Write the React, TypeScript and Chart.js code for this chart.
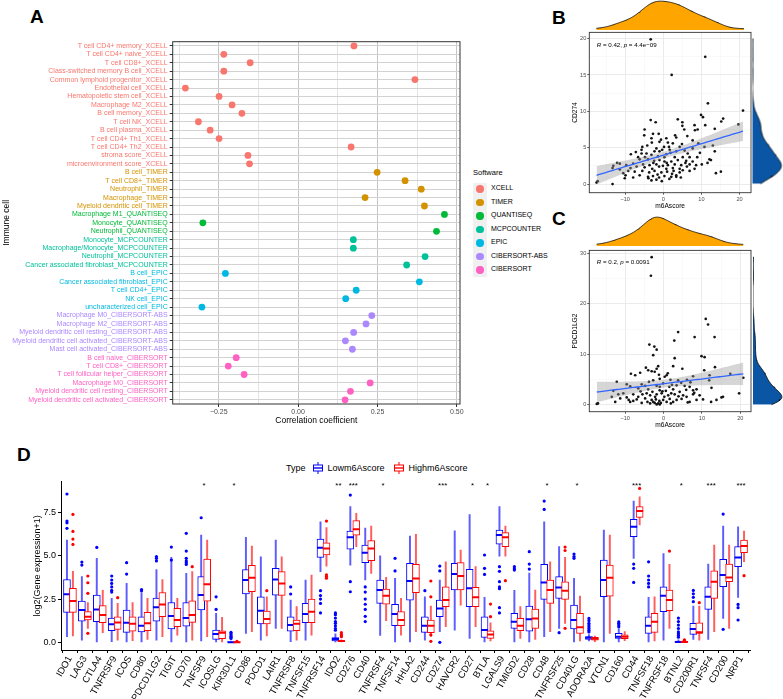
import React, { useEffect, useRef } from 'react';
import { Chart, registerables } from 'chart.js';
Chart.register(...registerables);

const FONT = "'Liberation Sans', Arial, Helvetica, sans-serif";

// ---------------- Panel A data ----------------
const cellLabels = [
  'T cell CD4+ memory_XCELL', 'T cell CD4+ naive_XCELL', 'T cell CD8+_XCELL', 'Class-switched memory B cell_XCELL',
  'Common lymphoid progenitor_XCELL', 'Endothelial cell_XCELL', 'Hematopoietic stem cell_XCELL', 'Macrophage M2_XCELL',
  'B cell memory_XCELL', 'T cell NK_XCELL', 'B cell plasma_XCELL', 'T cell CD4+ Th1_XCELL', 'T cell CD4+ Th2_XCELL',
  'stroma score_XCELL', 'microenvironment score_XCELL',
  'B cell_TIMER', 'T cell CD8+_TIMER', 'Neutrophil_TIMER', 'Macrophage_TIMER', 'Myeloid dendritic cell_TIMER',
  'Macrophage M1_QUANTISEQ', 'Monocyte_QUANTISEQ', 'Neutrophil_QUANTISEQ',
  'Monocyte_MCPCOUNTER', 'Macrophage/Monocyte_MCPCOUNTER', 'Neutrophil_MCPCOUNTER', 'Cancer associated fibroblast_MCPCOUNTER',
  'B cell_EPIC', 'Cancer associated fibroblast_EPIC', 'T cell CD4+_EPIC', 'NK cell_EPIC', 'uncharacterized cell_EPIC',
  'Macrophage M0_CIBERSORT-ABS', 'Macrophage M2_CIBERSORT-ABS', 'Myeloid dendritic cell resting_CIBERSORT-ABS',
  'Myeloid dendritic cell activated_CIBERSORT-ABS', 'Mast cell activated_CIBERSORT-ABS',
  'B cell naive_CIBERSORT', 'T cell CD8+_CIBERSORT', 'T cell follicular helper_CIBERSORT', 'Macrophage M0_CIBERSORT',
  'Myeloid dendritic cell resting_CIBERSORT', 'Myeloid dendritic cell activated_CIBERSORT',
];
const corrValues = [
  0.176, -0.234, -0.151, -0.234, 0.368, -0.355, -0.249, -0.208, -0.177, -0.314, -0.277, -0.249, 0.167, -0.158, -0.153,
  0.249, 0.337, 0.388, 0.211, 0.398,
  0.461, -0.300, 0.436,
  0.174, 0.174, 0.400, 0.342,
  -0.229, 0.382, 0.183, 0.150, -0.303,
  0.232, 0.214, 0.175, 0.149, 0.171,
  -0.195, -0.220, -0.170, 0.227, 0.165, 0.148,
];
const softwareNames = ['XCELL', 'TIMER', 'QUANTISEQ', 'MCPCOUNTER', 'EPIC', 'CIBERSORT-ABS', 'CIBERSORT'];
const softwareColors = ['#F8766D', '#D39200', '#00BA38', '#00C19A', '#00B9E3', '#AC88FF', '#FF61C3'];
const cellSoftware = cellLabels.map((l) => l.slice(l.lastIndexOf('_') + 1));

// ---------------- Panel B / C data ----------------
const cd274Points: number[][] = [
  [-3.3, 19.9], [11.0, 17.5], [2.2, 15.0], [11.7, 11.1], [20.9, 10.1], [19.7, 8.2], [9.9, 9.5], [10.4, 9.2], [15.7, 9.0], [15.2, 8.6],
  [-3.3, 8.8], [-2.0, 8.5], [3.8, 8.9], [5.0, 8.5], [5.0, 8.0], [8.2, 8.1], [11.0, 8.1], [13.5, 7.6], [-4.9, 7.5], [5.5, 7.5],
  [8.3, 7.4], [9.0, 7.5], [-2.7, 6.9], [-1.2, 6.9], [-5.0, 6.7], [-3.1, 6.3], [0.8, 6.3], [3.1, 6.7], [3.4, 6.4], [6.3, 6.6],
  [-3.0, 5.7], [-1.0, 5.8], [1.2, 5.7], [2.5, 5.6], [7.7, 6.0], [13.0, 5.3], [10.8, 5.1], [-4.2, 5.3], [-5.5, 5.1], [0.2, 5.1],
  [1.5, 5.1], [4.3, 5.1], [-5.7, 4.7], [-1.8, 4.9], [-0.3, 4.7], [1.7, 4.7], [3.4, 4.5], [5.6, 4.6], [13.5, 4.5], [-8.5, 4.1],
  [-4.4, 4.2], [-3.1, 4.0], [-1.4, 3.8], [0.8, 4.1], [3.0, 3.7], [5.1, 3.7], [6.9, 3.7], [8.9, 3.7], [12.1, 3.4], [12.5, 3.3],
  [-6.6, 3.7], [-6.2, 3.4], [-4.0, 3.4], [-2.4, 3.2], [-1.0, 3.3], [0.3, 3.1], [2.1, 3.1], [3.8, 3.3], [6.0, 3.2], [7.7, 3.1],
  [10.1, 2.7], [-7.9, 2.8], [-5.3, 2.7], [-3.6, 2.6], [-1.8, 2.7], [-0.1, 2.5], [1.2, 2.6], [3.0, 2.7], [4.7, 2.6], [6.9, 2.7],
  [8.6, 2.6], [-12.1, 2.9], [-9.7, 2.6], [-7.0, 2.4], [-4.9, 2.3], [-2.9, 2.1], [-1.1, 2.4], [0.8, 2.1], [2.5, 2.2], [4.3, 2.1],
  [6.2, 2.4], [-13.3, 2.2], [-11.4, 2.0], [-9.2, 1.8], [-7.5, 1.7], [-5.5, 1.8], [-3.7, 1.6], [-2.3, 1.8], [-0.5, 1.6], [1.0, 1.7],
  [2.7, 1.8], [4.3, 1.6], [6.9, 1.8], [13.8, 1.5], [15.1, 1.7], [-6.2, 1.2], [-4.0, 1.0], [-2.7, 1.1], [-1.1, 0.9], [0.3, 1.1],
  [2.1, 1.0], [3.4, 1.2], [-7.9, 0.9], [-10.1, 0.8], [-3.1, 0.5], [-1.8, 0.6], [-17.5, 0.2], [-17.2, 0.4], [-13.3, 0.0], [-13.1, 2.5],
  [-10.5, 1.5], [-11.4, 2.8], [-4.8, 3.7], [-5.7, 4.2], [-2.3, 4.5], [7.7, 4.9], [8.2, 2.1], [5.1, 1.9], [9.6, 4.3], [3.4, 1.0],
  [-1.0, 4.5], [0.3, 3.7], [-7.2, 4.4], [-0.6, 6.1], [1.9, 4.3], [4.9, 5.5], [6.4, 4.2], [-2.6, 2.9], [0.9, 2.9], [-3.9, 0.8],
  [-0.4, 0.4], [1.6, 0.7], [-1.5, 1.3], [2.3, 1.4], [4.6, 0.9], [5.8, 2.9], [-8.6, 2.2], [-9.9, 1.2], [9.2, 5.6], [11.6, 2.9],
];
const pdcd1lg2Points: number[][] = [
  [-3.1, 29.3], [-3.3, 25.6], [11.0, 17.0], [11.6, 15.9], [3.8, 14.4], [8.1, 13.4], [13.3, 13.4], [2.8, 12.7], [-3.7, 11.9], [-2.4, 11.5],
  [-1.8, 10.9], [-2.7, 9.8], [9.9, 9.6], [10.7, 9.4], [2.9, 9.2], [13.4, 7.4], [2.5, 7.6], [4.9, 7.1], [10.6, 6.8], [-4.6, 7.3],
  [-4.0, 6.8], [-3.1, 6.6], [-1.8, 7.1], [-1.4, 7.6], [-2.3, 6.5], [-6.1, 6.3], [-8.5, 6.1], [-7.4, 5.8], [0.8, 5.8], [7.7, 5.6],
  [12.0, 5.8], [17.4, 6.1], [20.8, 5.3], [11.9, 4.8], [-12.2, 4.5], [-9.6, 4.0], [-5.7, 4.0], [-4.8, 3.7], [-2.7, 4.8], [-1.0, 5.1],
  [0.3, 5.5], [1.8, 4.9], [3.8, 4.8], [6.1, 4.9], [-1.8, 3.7], [-0.1, 4.2], [1.5, 3.5], [3.4, 3.8], [5.5, 3.7], [6.8, 3.5],
  [12.5, 3.3], [7.7, 2.8], [8.6, 3.0], [-8.7, 3.6], [-6.6, 3.2], [-4.0, 3.0], [-2.9, 2.5], [-1.0, 2.8], [0.6, 2.7], [2.5, 3.0],
  [4.2, 2.5], [-13.1, 2.7], [-10.5, 2.2], [-7.9, 2.0], [-5.5, 2.0], [-3.5, 1.8], [-1.8, 2.0], [-0.5, 2.2], [1.2, 1.8], [2.9, 2.0],
  [5.1, 1.8], [7.7, 2.0], [9.4, 1.8], [19.7, 2.2], [-13.5, 1.5], [-11.3, 1.2], [-9.6, 1.4], [-7.0, 1.0], [-4.8, 1.2], [-3.1, 0.9],
  [-2.0, 1.0], [-1.1, 0.7], [-0.1, 0.9], [1.6, 1.1], [3.4, 0.9], [4.7, 1.1], [8.6, 0.9], [13.8, 0.9], [15.5, 1.5], [15.1, 1.4],
  [-12.6, 0.5], [-8.7, 0.5], [-5.7, 0.3], [-3.5, 0.2], [-2.3, 0.3], [-1.4, 0.2], [-0.7, 0.3], [0.8, 0.5], [-2.7, 0.5], [-17.4, 0.1],
  [-17.1, 0.2], [-1.8, 0.0], [-1.0, 0.0], [2.5, 0.5], [-7.9, 0.7], [-6.6, 1.5], [-4.4, 2.2], [-1.0, 3.5], [2.0, 2.2], [6.0, 1.5],
  [6.8, 0.5], [-2.2, 1.5], [0.2, 1.5], [1.9, 0.2], [-4.2, 0.5], [3.9, 1.6], [5.9, 2.9], [-6.0, 2.6], [-9.1, 0.9], [-11.8, 2.0],
  [8.0, 2.3], [10.3, 1.0], [12.4, 0.5], [-0.3, 2.6], [2.2, 3.9], [4.6, 4.3], [7.0, 4.4], [-3.8, 4.5], [-1.2, 5.9], [1.1, 6.2], [6.3, 0.4],
];
const statB = { r: '0.42', p: '4.4e\u221209' };
const statC = { r: '0.2', p: '0.0091' };

// ---------------- Panel D data ----------------
const genes = ['IDO1', 'LAG3', 'CTLA4', 'TNFRSF9', 'ICOS', 'CD80', 'PDCD1LG2', 'TIGIT', 'CD70', 'TNFSF9', 'ICOSLG', 'KIR3DL1',
  'CD86', 'PDCD1', 'LAIR1', 'TNFRSF8', 'TNFSF15', 'TNFRSF14', 'IDO2', 'CD276', 'CD40', 'TNFRSF4', 'TNFSF14', 'HHLA2', 'CD244',
  'CD274', 'HAVCR2', 'CD27', 'BTLA', 'LGALS9', 'TMIGD2', 'CD28', 'CD48', 'TNFRSF25', 'CD40LG', 'ADORA2A', 'VTCN1', 'CD160',
  'CD44', 'TNFSF18', 'TNFRSF18', 'BTNL2', 'CD200R1', 'TNFSF4', 'CD200', 'NRP1'];
// [lower whisker, Q1, median, Q3, upper whisker]
const lowStats = [
  [0.33, 1.73, 2.77, 3.63, 5.9], [0.13, 1.23, 1.87, 2.38, 3.8], [0, 1.19, 1.9, 2.73, 4.85], [0.04, 0.67, 1.04, 1.4, 2.54],
  [0, 0.58, 1.13, 1.87, 3.4], [0, 0.6, 0.96, 1.48, 2.87], [0.13, 1.23, 2.02, 2.55, 4.2], [0, 0.77, 1.52, 2.3, 4.9],
  [0, 0.94, 1.4, 2.3, 3.98], [0.08, 1.87, 2.73, 3.79, 6.19], [0, 0.17, 0.48, 0.71, 1.67], [0, 0, 0, 0.04, 0.08],
  [0.52, 2.79, 3.6, 4.2, 6.06], [0.13, 1.06, 1.83, 2.63, 4.94], [0.81, 2.73, 3.63, 4.27, 5.9], [0.04, 0.65, 1.0, 1.48, 2.44],
  [0.13, 1.13, 1.63, 2.25, 3.6], [4.08, 4.9, 5.46, 5.96, 6.96], [0, 0.08, 0.19, 0.27, 0.5], [4.46, 5.38, 6.06, 6.42, 7.83],
  [3.6, 4.6, 5.17, 5.62, 6.6], [0.4, 2.25, 3.02, 3.6, 5.0], [0, 0.96, 1.63, 2.19, 3.7], [0, 2.44, 3.54, 4.56, 6.13],
  [0.13, 0.58, 0.96, 1.48, 2.63], [0.62, 1.48, 1.96, 2.44, 3.6], [0.71, 3.02, 3.94, 4.56, 6.44], [0.23, 2.06, 3.12, 4.21, 7.38],
  [0, 0.29, 0.71, 1.48, 2.6], [4.98, 5.67, 6.19, 6.48, 7.83], [0, 0.81, 1.19, 1.67, 3.0], [0, 0.65, 1.33, 2.1, 4.0],
  [0.33, 2.48, 3.46, 4.5, 6.96], [0.81, 2.54, 3.17, 3.79, 5.52], [0, 0.77, 1.29, 2.15, 3.7], [0.08, 0.17, 0.27, 0.33, 0.45],
  [0, 2.63, 3.6, 4.75, 6.48], [0, 0.23, 0.33, 0.52, 0.8], [4.85, 6.1, 6.67, 7.1, 8.15], [0, 0.52, 0.96, 1.48, 2.6],
  [0.13, 1.77, 2.69, 3.21, 5.13], [0, 0, 0.02, 0.08, 0.15], [0.17, 0.46, 0.77, 1.1, 2.1], [0.17, 1.9, 2.63, 3.21, 4.52],
  [1.38, 3.21, 3.88, 4.79, 6.71], [2.6, 4.37, 4.9, 5.52, 6.67],
];
const highStats = [
  [0.37, 1.73, 2.38, 3.12, 4.1], [0.81, 1.29, 1.48, 1.77, 2.3], [0.56, 1.13, 1.58, 2.12, 3.0], [0.13, 0.75, 1.15, 1.48, 2.25],
  [0.1, 0.65, 1.08, 1.48, 2.3], [0.17, 0.67, 1.1, 1.73, 2.54], [0.33, 1.48, 2.19, 2.88, 3.63], [0.42, 0.9, 1.29, 1.96, 2.54],
  [0.13, 1.15, 1.58, 2.4, 4.08], [0.33, 2.38, 3.35, 4.8, 5.9], [0, 0.21, 0.56, 0.67, 1.44], [0, 0, 0, 0.02, 0.05],
  [0.62, 2.92, 3.73, 4.45, 5.56], [0.37, 1.06, 1.35, 1.81, 2.63], [0.8, 2.71, 3.4, 4.08, 4.94], [0.13, 0.67, 1.08, 1.29, 2.06],
  [0.42, 1.13, 1.77, 2.5, 3.88], [4.4, 5.04, 5.42, 5.75, 6.63], [0, 0.04, 0.08, 0.1, 0.15], [5.52, 6.19, 6.52, 7.02, 7.44],
  [3.98, 4.71, 5.42, 5.87, 6.71], [1.25, 2.21, 2.69, 3.08, 3.75], [0.42, 0.96, 1.29, 1.77, 2.54], [0.62, 2.87, 3.69, 4.5, 6.23],
  [0.33, 0.56, 0.96, 1.29, 2.1], [0.9, 2.06, 2.44, 3.21, 4.65], [2.15, 3.02, 3.83, 4.6, 5.33], [0.9, 2.06, 2.6, 3.17, 4.37],
  [0.08, 0.23, 0.46, 0.67, 1.13], [4.98, 5.52, 6.06, 6.33, 6.71], [0.23, 0.67, 0.96, 1.38, 2.06], [0.17, 0.81, 1.38, 1.92, 3.02],
  [0.62, 2.25, 3.02, 3.6, 4.65], [1.1, 2.48, 2.98, 3.5, 4.9], [0.08, 0.52, 0.87, 1.67, 2.67], [0.04, 0.13, 0.21, 0.29, 0.37],
  [0.52, 2.67, 3.73, 4.46, 6.19], [0.1, 0.21, 0.33, 0.44, 0.62], [6.77, 7.21, 7.58, 7.83, 8.4], [0.08, 0.58, 1.19, 1.67, 2.63],
  [0.81, 1.83, 2.44, 3.02, 4.5], [0, 0, 0.02, 0.06, 0.1], [0.13, 0.52, 0.58, 1.13, 2.1], [0.62, 2.54, 3.5, 4.13, 5.62],
  [0.81, 3.5, 3.75, 4.52, 5.62], [4.65, 5.17, 5.56, 5.9, 6.42],
];
const lowOutliers = [
  [8.56, 7.0, 6.9, 6.58], [4.63, 4.46], [5.48], [3.83, 3.6, 3.4, 3.2, 3.0, 2.9], [4.6, 3.94], [3.05, 2.98], [4.95, 4.85, 4.7],
  [5.5, 4.75], [6.29, 5.27, 4.85, 4.7, 4.6, 4.5], [7.19], [2.63, 1.9], [0.58, 0.5, 0.42, 0.35, 0.28, 0.23], [], [], [],
  [3.2, 2.79], [], [2.98, 2.7, 2.5, 2.25, 1.7], [1.7, 1.6, 1.4, 1.2, 1.1, 0.95, 0.8, 0.7], [8.5, 3.5, 2.92],
  [3.2, 2.9, 2.5, 2.2, 1.9, 1.5, 1.2], [], [4.85, 4.12], [], [2.98], [4.4, 4.12, 0], [], [], [5.04, 4.27, 3.92],
  [4.37, 4.1, 3.5, 3.2, 3.1, 2.0, 1.7], [4.37, 4.25, 4.17], [5.23, 4.52, 4.23], [8.15, 7.67], [0.56], [5.1, 4.95, 4.85],
  [1.38, 1.25, 1.1, 1.0, 0.9, 0.8, 0.7, 0.6], [], [1.19, 1.1, 1.0, 0.9], [4.52, 4.27, 3.46], [4.65, 3.83, 3.6, 3.4, 3.2], [],
  [1.4, 1.2, 1.0, 0.8, 0.6, 0.5, 0.4, 0.3], [3.0, 2.8, 2.6, 2.35], [], [7.4, 0.75], [2.19, 2.0, 1.29],
];
const highOutliers = [
  [7.38, 6.4, 5.96, 5.65], [3.83, 3.44, 2.83, 0.52], [], [2.58], [], [], [], [], [4.37], [], [], [0.06], [], [2.98], [], [], [],
  [7.0, 3.9, 3.8, 3.7], [0.56, 0.45, 0.38, 0.33], [], [], [], [], [], [3.54, 2.63, 0.44, 0.06], [], [], [], [2.21, 1.48], [3.56],
  [], [], [], [5.5, 5.3, 0.81], [], [], [], [], [8.88], [], [5.27], [0.15, 0.12], [2.29], [], [], [3.85],
];
const signif = ['', '', '', '', '', '', '', '', '', '*', '', '*', '', '', '', '', '', '', '**', '***', '', '*', '', '', '', '***',
  '', '*', '*', '', '', '', '*', '', '*', '', '', '', '***', '', '', '*', '', '***', '', '***'];
const typeNames = ['Lowm6Ascore', 'Highm6Ascore'];
const typeColors = ['#0000FF', '#FF0000'];
const typeWhisker = ['rgba(40,40,255,0.75)', 'rgba(255,40,40,0.75)'];

// ---------------- helpers ----------------
const minus = (s: string) => s.replace('-', '\u2212');

function kde(vals: number[], n = 160) {
  const N = vals.length;
  const mean = vals.reduce((a, b) => a + b, 0) / N;
  const sd = Math.sqrt(vals.reduce((a, b) => a + (b - mean) ** 2, 0) / (N - 1));
  const s = [...vals].sort((a, b) => a - b);
  const q = (p: number) => { const h = (N - 1) * p; const lo = Math.floor(h); return s[lo] + (h - lo) * (s[Math.min(lo + 1, N - 1)] - s[lo]); };
  const iqr = q(0.75) - q(0.25);
  const bw = 0.9 * Math.min(sd, iqr / 1.34) * Math.pow(N, -0.2);
  const lo = s[0], hi = s[N - 1];
  const out: { x: number; y: number }[] = [];
  for (let k = 0; k < n; k++) {
    const x = lo + ((hi - lo) * k) / (n - 1);
    let d = 0;
    for (const v of vals) { const z = (x - v) / bw; d += Math.exp(-0.5 * z * z); }
    out.push({ x, y: d / (N * bw * Math.sqrt(2 * Math.PI)) });
  }
  return out;
}

function linFit(pts: number[][]) {
  const n = pts.length;
  const mx = pts.reduce((a, p) => a + p[0], 0) / n;
  const my = pts.reduce((a, p) => a + p[1], 0) / n;
  let sxx = 0, sxy = 0;
  for (const p of pts) { sxx += (p[0] - mx) ** 2; sxy += (p[0] - mx) * (p[1] - my); }
  const b = sxy / sxx, a = my - b * mx;
  let sse = 0;
  for (const p of pts) sse += (p[1] - a - b * p[0]) ** 2;
  const s = Math.sqrt(sse / (n - 2));
  const xs = pts.map((p) => p[0]);
  const lo = Math.min(...xs), hi = Math.max(...xs);
  const line: any[] = [], upper: any[] = [], lower: any[] = [];
  for (let k = 0; k <= 80; k++) {
    const x = lo + ((hi - lo) * k) / 80;
    const yh = a + b * x;
    const se = s * Math.sqrt(1 / n + (x - mx) ** 2 / sxx) * 1.976;
    line.push({ x, y: yh }); upper.push({ x, y: yh + se }); lower.push({ x, y: yh - se });
  }
  return { line, upper, lower };
}

const panelBorder = {
  id: 'panelBorder',
  afterDatasetsDraw(chart: any, _a: any, opts: any) {
    if (!opts || !opts.color) return;
    const { ctx, chartArea: a } = chart;
    ctx.save();
    ctx.strokeStyle = opts.color;
    ctx.lineWidth = opts.width || 1;
    ctx.strokeRect(a.left, a.top, a.right - a.left, a.bottom - a.top);
    ctx.restore();
  },
};

const corrText = {
  id: 'corrText',
  afterDatasetsDraw(chart: any, _a: any, opts: any) {
    if (!opts || !opts.parts) return;
    const { ctx, chartArea: a } = chart;
    let x = a.left + opts.dx;
    const y = a.top + opts.dy;
    ctx.save();
    ctx.fillStyle = '#000';
    ctx.textBaseline = 'middle';
    for (const [t, it] of opts.parts) {
      ctx.font = `${it ? 'italic ' : ''}${opts.size}px ${FONT}`;
      ctx.fillText(t, x, y);
      x += ctx.measureText(t).width;
    }
    ctx.restore();
  },
};

const starsPlugin = {
  id: 'stars',
  afterDatasetsDraw(chart: any) {
    const { ctx, scales, chartArea } = chart;
    ctx.save();
    ctx.font = `8px ${FONT}`;
    ctx.fillStyle = '#000';
    ctx.textAlign = 'center';
    ctx.textBaseline = 'middle';
    signif.forEach((s, i) => { if (s) ctx.fillText(s, scales.x.getPixelForValue(i), chartArea.top + 4); });
    ctx.restore();
  },
};

function ChartCanvas({ left, top, width, height, make, rotate }: any) {
  const ref = useRef<HTMLCanvasElement>(null);
  useEffect(() => {
    const chart = new Chart(ref.current as HTMLCanvasElement, make());
    return () => chart.destroy();
  }, []);
  return (
    <div style={{ position: 'absolute', left, top, width, height, transform: rotate ? `rotate(${rotate}deg)` : undefined }}>
      <canvas ref={ref} width={width} height={height} style={{ display: 'block', width, height }} />
    </div>
  );
}

const baseOpts = {
  responsive: false,
  animation: false as const,
  events: [] as any[],
};

// ---------------- Panel A config ----------------
function makeA() {
  const isMajor = (v: number) => Math.abs(v * 4 - Math.round(v * 4)) < 1e-6;
  return {
    type: 'scatter',
    data: {
      datasets: softwareNames.map((sw, si) => ({
        label: sw,
        data: cellLabels.map((c, i) => (cellSoftware[i] === sw ? { x: corrValues[i], y: c } : null)).filter(Boolean),
        backgroundColor: softwareColors[si],
        borderWidth: 0,
        pointRadius: 3.4,
      })),
    },
    options: {
      ...baseOpts,
      layout: { padding: { top: 11.7, right: 6, left: 0, bottom: 0 } },
      plugins: { legend: { display: false }, tooltip: { enabled: false }, panelBorder: { color: '#333333', width: 1 } },
      scales: {
        x: {
          type: 'linear', min: -0.395, max: 0.51,
          afterFit: (s: any) => { s.height = 22; },
          ticks: {
            stepSize: 0.125, includeBounds: false, maxTicksLimit: 100, autoSkip: false, maxRotation: 0,
            callback: (v: number) => (isMajor(v) ? minus(v.toFixed(2)) : ''),
            font: { family: FONT, size: 7 }, color: '#4D4D4D', padding: 1,
          },
          grid: {
            color: (c: any) => (isMajor(c.tick.value) ? '#C4C4C4' : '#E4E4E4'),
            tickColor: (c: any) => (isMajor(c.tick.value) ? '#333333' : 'rgba(0,0,0,0)'),
            tickLength: 3, lineWidth: 1,
          },
          border: { display: false },
          title: { display: true, text: 'Correlation coefficient', font: { family: FONT, size: 8.5 }, color: '#000', padding: { top: 0, bottom: 0 } },
        },
        y: {
          type: 'category', labels: cellLabels, offset: true,
          afterFit: (s: any) => { s.width = 172.7; },
          ticks: {
            autoSkip: false, font: { family: FONT, size: 7 }, padding: 2,
            color: (c: any) => softwareColors[softwareNames.indexOf(cellSoftware[c.index])],
          },
          grid: { offset: false, color: '#D2D2D2', tickColor: '#333333', tickLength: 3, lineWidth: 1 },
          border: { display: false },
          title: { display: true, text: 'Immune cell', font: { family: FONT, size: 8.5 }, color: '#000', padding: { top: 1.5, bottom: 0 } },
        },
      },
    },
    plugins: [panelBorder],
  };
}

// ---------------- Panel B / C config ----------------
function makeScatter(pts: number[][], xr: number[], yr: number[], yStep: number, yMajor: number, yTitle: string, stat: any, pad: any, textDy: number) {
  const fit = linFit(pts);
  const isMajX = (v: number) => Math.abs(v % 10) < 1e-6;
  const isMajY = (v: number) => Math.abs(v / yMajor - Math.round(v / yMajor)) < 1e-6;
  const tickFont = { family: FONT, size: 5.6 };
  return {
    type: 'scatter',
    data: {
      datasets: [
        { data: pts.map((p) => ({ x: p[0], y: p[1] })), pointRadius: 1.35, backgroundColor: '#141414', borderWidth: 0, order: 3 },
        { data: fit.lower, showLine: true, pointRadius: 0, borderWidth: 0, fill: false, order: 2 },
        { data: fit.upper, showLine: true, pointRadius: 0, borderWidth: 0, fill: '-1', backgroundColor: 'rgba(153,153,153,0.4)', order: 2 },
        { data: fit.line, showLine: true, pointRadius: 0, borderColor: '#3366FF', borderWidth: 1.3, fill: false, order: 0 },
      ],
    },
    options: {
      ...baseOpts,
      layout: { padding: pad },
      plugins: {
        legend: { display: false }, tooltip: { enabled: false },
        panelBorder: { color: '#333333', width: 0.9 },
        corrText: { dx: 7.4, dy: textDy, size: 6.2, parts: [['R', true], [` = ${stat.r}, `, false], ['p', true], [` = ${stat.p}`, false]] },
      },
      scales: {
        x: {
          type: 'linear', min: xr[0], max: xr[1],
          afterFit: (s: any) => { s.height = 20.3; },
          ticks: { stepSize: 5, includeBounds: false, maxTicksLimit: 100, maxRotation: 0, autoSkip: false, callback: (v: number) => (isMajX(v) ? minus(String(v)) : ''), font: tickFont, color: '#4D4D4D', padding: 1 },
          grid: {
            color: (c: any) => (isMajX(c.tick.value) ? '#E6E6E6' : '#F3F3F3'),
            lineWidth: (c: any) => (isMajX(c.tick.value) ? 0.8 : 0.5),
            tickColor: (c: any) => (isMajX(c.tick.value) ? '#333333' : 'rgba(0,0,0,0)'), tickLength: 2,
          },
          border: { display: false },
          title: { display: true, text: 'm6Ascore', font: { family: FONT, size: 6.6 }, color: '#000', padding: { top: 0, bottom: 2.4 } },
        },
        y: {
          type: 'linear', min: yr[0], max: yr[1],
          afterFit: (s: any) => { s.width = 24.3; },
          ticks: { stepSize: yStep, includeBounds: false, maxTicksLimit: 100, autoSkip: false, callback: (v: number) => (isMajY(v) ? String(v) : ''), font: tickFont, color: '#4D4D4D', padding: 1 },
          grid: {
            color: (c: any) => (isMajY(c.tick.value) ? '#E6E6E6' : '#F3F3F3'),
            lineWidth: (c: any) => (isMajY(c.tick.value) ? 0.8 : 0.5),
            tickColor: (c: any) => (isMajY(c.tick.value) ? '#333333' : 'rgba(0,0,0,0)'), tickLength: 2,
          },
          border: { display: false },
          title: { display: true, text: yTitle, font: { family: FONT, size: 6.6 }, color: '#000', padding: { top: 6, bottom: 0 } },
        },
      },
    },
    plugins: [panelBorder, corrText],
  };
}

function makeDensity(vals: number[], range: number[], color: string, reverse: boolean) {
  const pts = kde(vals);
  const peak = Math.max(...pts.map((p) => p.y));
  return {
    type: 'line',
    data: { datasets: [{ data: pts, fill: 'origin', backgroundColor: color, borderColor: '#000', borderWidth: 0.8, pointRadius: 0, tension: 0 }] },
    options: {
      ...baseOpts,
      layout: { padding: 0 },
      plugins: { legend: { display: false }, tooltip: { enabled: false } },
      scales: {
        x: { type: 'linear', min: range[0], max: range[1], display: false },
        y: { type: 'linear', min: 0, max: peak * 1.04, display: false, reverse },
      },
    },
  };
}

// ---------------- Panel D config ----------------
function makeD() {
  const OFF = 0.2;
  const boxPx = 7;
  const sets: any[] = [];
  [1, 0].forEach((t) => {
    const stats = t === 0 ? lowStats : highStats;
    const outs = t === 0 ? lowOutliers : highOutliers;
    const dx = t === 0 ? -OFF : OFF;
    const col = typeColors[t];
    const base = t === 0 ? 3 : 0;
    sets.push({ type: 'scatter', label: typeNames[t], data: stats.map((s, i) => ({ x: i + dx, y: s[2] })), pointStyle: 'line', pointRadius: boxPx / 2, borderColor: col, borderWidth: 2, order: base });
    sets.push({ type: 'scatter', data: outs.flatMap((o, i) => o.map((v) => ({ x: i + dx, y: v }))), pointRadius: 1.6, backgroundColor: col, borderWidth: 0, order: base });
    sets.push({ type: 'bar', data: stats.map((s, i) => ({ x: i + dx, y: [s[1], s[3]] })), backgroundColor: '#FFFFFF', borderColor: col, borderWidth: 1, borderSkipped: false, barThickness: boxPx, grouped: false, order: base + 1 });
    sets.push({ type: 'bar', data: stats.map((s, i) => ({ x: i + dx, y: [s[0], s[4]] })), backgroundColor: typeWhisker[t], borderWidth: 0, barThickness: 1.3, grouped: false, order: base + 2 });
  });
  return {
    type: 'bar',
    data: { datasets: sets },
    options: {
      ...baseOpts,
      layout: { padding: { top: 11.7, right: 10, left: 0, bottom: 0 } },
      plugins: { legend: { display: false }, tooltip: { enabled: false } },
      scales: {
        x: {
          type: 'linear', min: -0.6, max: genes.length - 0.4, offset: false,
          afterFit: (s: any) => { s.height = 49; },
          ticks: { stepSize: 1, includeBounds: false, maxTicksLimit: 200, autoSkip: false, minRotation: 60, maxRotation: 60, callback: (v: number) => genes[v] ?? '', font: { family: FONT, size: 9.5 }, color: '#000', padding: 1 },
          grid: { display: true, drawOnChartArea: false, drawTicks: true, tickLength: 3, tickColor: '#000' },
          border: { display: true, color: '#000', width: 1 },
        },
        y: {
          type: 'linear', min: -0.44, max: 9.27,
          afterFit: (s: any) => { s.width = 61; },
          ticks: { stepSize: 2.5, includeBounds: false, callback: (v: number) => v.toFixed(1), font: { family: FONT, size: 9 }, color: '#000', padding: 2 },
          grid: { display: true, drawOnChartArea: false, drawTicks: true, tickLength: 3, tickColor: '#000' },
          border: { display: true, color: '#000', width: 1 },
          title: { display: true, text: 'log2(Gene expression+1)', font: { family: FONT, size: 9 }, color: '#000', padding: { top: 32, bottom: 0 } },
        },
      },
    },
    plugins: [starsPlugin],
  };
}

function Letter({ ch, left, top }: any) {
  return <div style={{ position: 'absolute', left, top, font: `bold 19px ${FONT}`, lineHeight: '19px', color: '#000' }}>{ch}</div>;
}

function BoxKey({ color }: any) {
  return (
    <svg width="12" height="12" style={{ display: 'block' }}>
      <line x1="6" y1="0" x2="6" y2="12" stroke={color} strokeWidth="1" />
      <rect x="1.5" y="3" width="9" height="6" fill="#fff" stroke={color} strokeWidth="1" />
      <line x1="1.5" y1="6" x2="10.5" y2="6" stroke={color} strokeWidth="1.4" />
    </svg>
  );
}

export default function App() {
  const bx = cd274Points.map((p) => p[0]);
  const by = cd274Points.map((p) => p[1]);
  const cx = pdcd1lg2Points.map((p) => p[0]);
  const cy = pdcd1lg2Points.map((p) => p[1]);
  const BXR = [-19.4, 23.0], BYR = [-1.19, 20.86];
  const CXR = [-19.36, 22.8], CYR = [-1.45, 30.65];
  return (
    <div style={{ position: 'absolute', left: 0, top: 0, width: 783, height: 699, background: '#fff', overflow: 'hidden', fontFamily: FONT }}>
      <Letter ch="A" left={30} top={7} />
      <Letter ch="B" left={552} top={7.5} />
      <Letter ch="C" left={552} top={209} />
      <Letter ch="D" left={17} top={445} />

      <ChartCanvas left={0} top={30} width={466} height={396} make={makeA} />

      {/* Software legend */}
      <div style={{ position: 'absolute', left: 473, top: 168, font: `7.5px ${FONT}`, color: '#000' }}>Software</div>
      <div style={{ position: 'absolute', left: 473.3, top: 182.5, width: 13.4, height: 94, background: '#F0F0F0' }} />
      {softwareNames.map((sw, i) => (
        <React.Fragment key={sw}>
          <div style={{ position: 'absolute', left: 476.3, top: 189 + i * 13.5 - 3.7, width: 7.4, height: 7.4, borderRadius: '50%', background: softwareColors[i] }} />
          <div style={{ position: 'absolute', left: 491, top: 189 + i * 13.5 - 5, height: 10, lineHeight: '10px', font: `7px ${FONT}`, color: '#000', whiteSpace: 'nowrap' }}>{sw}</div>
        </React.Fragment>
      ))}

      {/* Panel B */}
      <ChartCanvas left={589} top={0} width={163} height={30} make={() => makeDensity(bx, BXR, '#FFA500', false)} />
      <ChartCanvas left={565} top={28} width={190} height={185} make={() => makeScatter(cd274Points, BXR, BYR, 2.5, 5, 'CD274', statB, { top: 3.7, right: 3, left: 0, bottom: 0 }, 12.6)} />
      <ChartCanvas left={687} top={97} width={161} height={30} rotate={-90} make={() => makeDensity(by, BYR, '#0B56A4', true)} />

      {/* Panel C */}
      <ChartCanvas left={589} top={216} width={162} height={30} make={() => makeDensity(cx, CXR, '#FFA500', false)} />
      <ChartCanvas left={565} top={246} width={190} height={186} make={() => makeScatter(pdcd1lg2Points, CXR, CYR, 5, 10, 'PDCD1LG2', statC, { top: 3.3, right: 3.7, left: 0, bottom: 0 }, 11.7)} />
      <ChartCanvas left={687} top={315.5} width={162} height={30} rotate={-90} make={() => makeDensity(cy, CYR, '#0B56A4', true)} />

      {/* Panel D legend */}
      <div style={{ position: 'absolute', left: 286, top: 462, display: 'flex', alignItems: 'center', font: `9px ${FONT}`, color: '#000', whiteSpace: 'nowrap' }}>
        <span style={{ marginRight: 6 }}>Type</span>
        <BoxKey color={typeColors[0]} />
        <span style={{ marginLeft: 4, marginRight: 8 }}>{typeNames[0]}</span>
        <BoxKey color={typeColors[1]} />
        <span style={{ marginLeft: 4 }}>{typeNames[1]}</span>
      </div>
      <ChartCanvas left={0} top={470} width={760} height={229} make={makeD} />
    </div>
  );
}
